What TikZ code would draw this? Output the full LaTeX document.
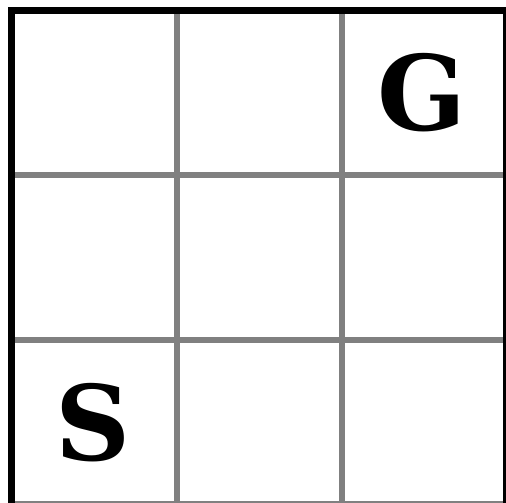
\documentclass[tikz,border=0pt]{standalone}
\usepackage{fontspec}
\setmainfont{DejaVu Serif}
\tikzset{
  gridline/.style={draw={rgb,255:red,128;green,128;blue,128}, line width=6pt},
  spine/.style={draw=black, line width=6.5pt},
  letter/.style={font=\bfseries\fontsize{104}{104}\selectfont, inner sep=0pt, anchor=center}
}
\begin{document}
\begin{tikzpicture}[x=1pt,y=-1pt]
\useasboundingbox (0,0) rectangle (506,503);
\fill[white] (0,0) rectangle (506,503);
\begin{scope}
\clip (0,0) rectangle (506,503);
% interior grid
\draw[gridline] (177,10) -- (177,510);
\draw[gridline] (341.5,10) -- (341.5,510);
\draw[gridline] (11,175) -- (510,175);
\draw[gridline] (11,340) -- (510,340);
\draw[gridline] (11,503.5) -- (510,503.5);
% spines
\draw[spine] (11.5,7.5) -- (11.5,510);
\draw[spine] (8.25,10.5) -- (510,10.5);
\draw[spine] (506.5,7.5) -- (506.5,510);
\end{scope}
\node[letter] (G) at (422,92.5) {G};
\node[letter] (S) at (93,422.5) {S};
\end{tikzpicture}
\end{document}
